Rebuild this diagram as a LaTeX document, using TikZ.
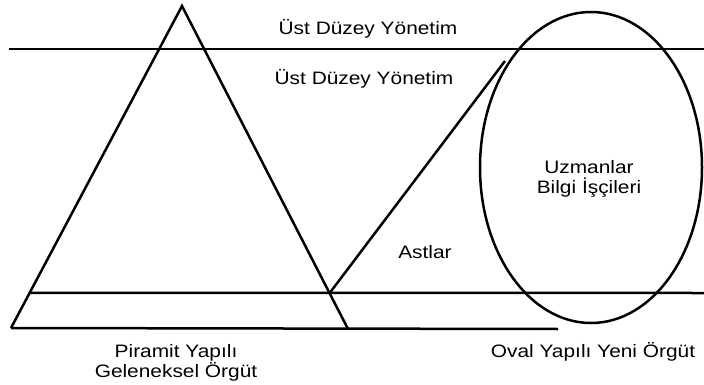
\documentclass[tikz,border=0pt]{standalone}
\usepackage{fontspec}
\setmainfont[FakeStretch=1.16]{Liberation Sans}
\usetikzlibrary{positioning,calc}

\begin{document}
\begin{tikzpicture}[x=1pt,y=-1pt,
    outline/.style={line width=2.5pt, line join=miter},
    lbl/.style={font=\fontsize{18}{20}\selectfont, anchor=base, inner sep=0pt}]
    \useasboundingbox (0,0) rectangle (704,385);
    % pyramid
    \coordinate (apex) at (182,6);
    \coordinate (pl) at (11,328);
    \coordinate (pr) at (348,329);
    \draw[outline] (pl) -- (apex) -- (pr);
    % level lines
    \coordinate (lowl) at ($(apex)!0.891!(pl)$);
    \coordinate (lowr) at ($(apex)!0.889!(pr)$);
    \coordinate (tip) at (505,61);
    \draw[outline] (9,49) -- (704,49);
    \draw[outline] (lowl) -- (704,293);
    \draw[outline] (pl) -- (558,329);
    \draw[outline] (lowr) -- (tip);
    % oval
    \draw[outline] (591,167.5) ellipse [x radius=111pt, y radius=155.5pt];
    % labels
    \node[lbl] (ust1) at (368,35) {Üst Düzey Yönetim};
    \node[lbl] (ust2) at (364,85) {Üst Düzey Yönetim};
    \node[lbl] (uzm) at (589,173) {Uzmanlar};
    \node[lbl, below=20pt of uzm.base, anchor=base] (bilgi) {Bilgi İşçileri};
    \node[lbl] (ast) at (425,258) {Astlar};
    \node[lbl] (pir) at (176,357) {Piramit Yapılı};
    \node[lbl, below=20pt of pir.base, anchor=base] (gel) {Geleneksel Örgüt};
    \node[lbl] (oval) at (593,357) {Oval Yapılı Yeni Örgüt};
\end{tikzpicture}
\end{document}
